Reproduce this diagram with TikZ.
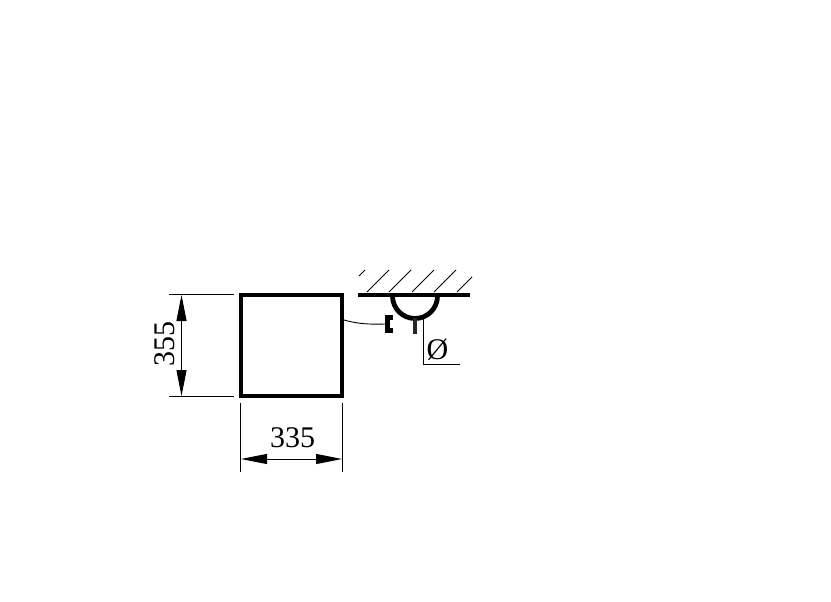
\documentclass[tikz,border=0pt]{standalone}
\usepackage{fontspec}
\setmainfont{Liberation Serif}
\usetikzlibrary{arrows.meta,calc,positioning}
\tikzset{%
	heavy/.style  = {line width=4.8pt},
	thin line/.style = {line width=0.9pt},
	dimarrow/.style = {line width=1pt,{Triangle[length=26pt,width=10pt]}-{Triangle[length=26pt,width=10pt]}},
	dimtext/.style = {inner sep=0pt,font=\fontsize{30}{30}\selectfont},
}
\begin{document}
\begin{tikzpicture}[x=1pt,y=-1pt]
		\useasboundingbox (0,0) rectangle (831,602);
		% frame
		\coordinate (fa) at (241,295);
		\coordinate (fb) at (342,396);
		\draw[heavy] (fa) rectangle (fb);
		
		% height
		\draw[thin line] (169,294.5) -- (234,294.5);
		\draw[thin line] (169,396.5) -- (234,396.5);
		\coordinate (ha) at (181.5,295);
		\coordinate (hb) at (181.5,396);
		\draw[dimarrow] (ha) -- (hb);
		\node[dimtext,rotate=90] (hlabel) at (164.5,343.5) {355};
		
		% width
		\draw[thin line] (240.5,403) -- (240.5,472);
		\draw[thin line] (342.5,403) -- (342.5,472);
		\coordinate (wa) at (241,459);
		\coordinate (wb) at (342,459);
		\draw[dimarrow] (wa) -- (wb);
		\node[dimtext] (wlabel) at (292.5,438) {335};
		
		% ceiling
		\draw[heavy] (358,295) -- (470,295);
		\foreach \x in {367,389,412,434} \draw[thin line] (\x,292) -- ++(22,-22);
		\draw[thin line] (359,276) -- (365,270);
		\draw[thin line] (457,292) -- (472,277);
		
		% clip
		\draw[heavy] (392.5,296) arc[start angle=180,end angle=0,radius=22.5];
		\draw[line width=4.4pt,black!85] (415,318) -- (415,334);
		\draw[line width=4.6pt] (393,317.3) -- (387.5,317.3) -- (387.5,330.7) -- (393,330.7);
		\draw[thin line] (344,320) .. controls (358,324) and (370,324.5) .. (385,324);
		
		% diameter
		\draw[thin line] (423,318) -- (423,364) -- (460,364);
		\node[dimtext] (dlabel) at (437.5,350) {Ø};
		
		\end{tikzpicture}
\end{document}
